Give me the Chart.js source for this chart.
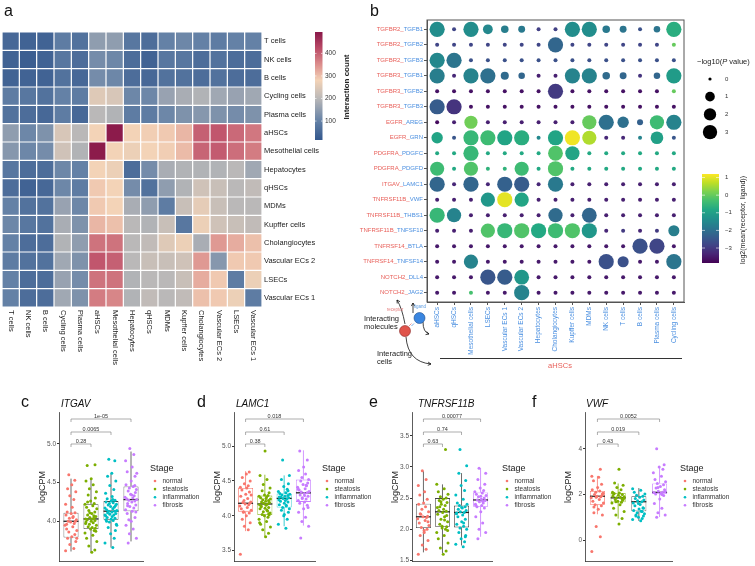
<!DOCTYPE html>
<html>
<head>
<meta charset="utf-8">
<script src="https://cdn.jsdelivr.net/npm/chart.js@4.4.1/dist/chart.umd.min.js"></script>
<style>
  body { margin: 0; background: #fff; width: 755px; height: 566px; position: relative; overflow: hidden; }
  canvas { position: absolute; }
</style>
</head>
<body>
<canvas id="heat" style="left:0;top:0" width="360" height="380"></canvas>
<canvas id="dots" style="left:350px;top:0" width="405" height="380"></canvas>
<canvas id="boxC" style="left:15px;top:390px" width="200" height="176"></canvas>
<canvas id="boxD" style="left:190px;top:390px" width="195" height="176"></canvas>
<canvas id="boxE" style="left:365px;top:390px" width="195" height="176"></canvas>
<canvas id="boxF" style="left:525px;top:390px" width="230" height="176"></canvas>
<script>
const FONT = "'Liberation Sans', Arial, sans-serif";
Chart.defaults.font.family = FONT;
Chart.defaults.animation = false;

// ---- panel a: interaction counts between cell types
const cellTypes = ["T cells", "NK cells", "B cells", "Cycling cells", "Plasma cells", "aHSCs",
  "Mesothelial cells", "Hepatocytes", "qHSCs", "MDMs", "Kupffer cells", "Cholangiocytes",
  "Vascular ECs 2", "LSECs", "Vascular ECs 1"];
const interactionCounts = [
  [50, 40, 40, 90, 70, 150, 150, 80, 60, 100, 110, 100, 90, 100, 100],
  [40, 30, 40, 80, 60, 120, 110, 60, 40, 80, 80, 60, 70, 60, 60],
  [40, 40, 40, 70, 50, 120, 110, 60, 50, 70, 70, 60, 70, 60, 60],
  [90, 80, 70, 100, 90, 250, 240, 110, 110, 160, 180, 190, 170, 160, 170],
  [70, 60, 50, 90, 50, 200, 190, 90, 90, 110, 130, 140, 130, 120, 130],
  [150, 110, 130, 240, 200, 280, 490, 280, 285, 290, 310, 400, 410, 390, 375],
  [140, 110, 120, 230, 190, 490, 280, 270, 280, 285, 305, 395, 405, 385, 370],
  [80, 60, 60, 110, 100, 280, 270, 60, 120, 180, 190, 190, 190, 200, 170],
  [60, 40, 50, 110, 90, 290, 280, 120, 70, 150, 190, 230, 220, 200, 210],
  [100, 70, 70, 160, 110, 290, 280, 180, 150, 90, 220, 260, 220, 200, 200],
  [110, 80, 70, 180, 130, 310, 300, 200, 190, 220, 80, 270, 230, 220, 210],
  [100, 60, 60, 190, 150, 380, 380, 200, 210, 250, 270, 180, 340, 320, 300],
  [90, 70, 70, 170, 130, 410, 400, 200, 220, 220, 230, 340, 140, 290, 290],
  [100, 60, 60, 160, 120, 380, 380, 190, 200, 200, 220, 320, 290, 90, 270],
  [100, 60, 60, 170, 130, 370, 360, 190, 210, 200, 210, 300, 290, 270, 90]
];
const countTicks = [100, 200, 300, 400];

// ---- panel b: receptor/ligand pairs on aHSCs
const pairs = ["TGFBR2_TGFB1", "TGFBR2_TGFB2", "TGFBR2_TGFB3", "TGFBR3_TGFB1", "TGFBR3_TGFB2",
  "TGFBR3_TGFB3", "EGFR_AREG", "EGFR_GRN", "PDGFRA_PDGFC", "PDGFRA_PDGFD", "ITGAV_LAMC1",
  "TNFRSF11B_VWF", "TNFRSF11B_THBS1", "TNFRSF11B_TNFSF10", "TNFRSF14_BTLA", "TNFRSF14_TNFSF14",
  "NOTCH2_DLL4", "NOTCH2_JAG2"];
const targetCells = ["aHSCs", "qHSCs", "Mesothelial cells", "LSECs", "Vascular ECs 1", "Vascular ECs 2",
  "Hepatocytes", "Cholangiocytes", "Kupffer cells", "MDMs", "NK cells", "T cells", "B cells",
  "Plasma cells", "Cycling cells"];
const negLogP = [
  [3, 0, 3, 0.8, 0.3, 0.2, 0, 0, 3, 3, 0.3, 0.2, 0, 0.15, 3],
  [0, 0, 0, 0, 0, 0, 0, 3, 0, 0, 0, 0, 0, 0, 0],
  [3, 3, 0, 0, 0, 0, 0, 0, 0, 0, 0, 0, 0, 0, 0],
  [3, 0, 3, 3, 0.4, 0.15, 0, 0, 3, 3, 0.3, 0.2, 0, 0.15, 3],
  [0, 0, 0, 0, 0, 0, 0, 3, 0, 0, 0, 0, 0, 0, 0],
  [3, 3, 0, 0, 0, 0, 0, 0, 0, 0, 0, 0, 0, 0, 0],
  [0, 0, 2, 0, 0, 0, 0, 0, 0, 2.5, 3, 1.3, 0.1, 2.5, 3],
  [1.3, 0, 3, 3, 3, 3, 0, 3, 3, 2.5, 0, 0, 0, 1.8, 0],
  [0, 0, 3, 0, 0, 0, 0, 2.8, 2.5, 0, 0, 0, 0, 0, 0],
  [2.5, 0, 2.5, 0, 0, 2.5, 0, 3, 0, 0, 0, 0, 0, 0, 0],
  [3, 0, 3, 0, 3, 3, 0, 3, 0, 0, 0, 0, 0, 0, 0],
  [0, 0, 0, 2.5, 3, 2.5, 0, 0, 0, 0, 0, 0, 0, 0, 0],
  [3, 2.5, 0, 0, 0, 0, 0, 2.5, 0, 2.8, 0, 0, 0, 0, 0],
  [0, 0, 0, 2.5, 3, 3, 3, 3, 3, 3, 0, 0, 0, 0, 1.2],
  [0, 0, 0, 0, 0, 0, 0, 0, 0, 0, 0, 0, 3, 3, 0],
  [0, 0, 2.5, 0, 0, 0, 0, 0, 0, 0, 3, 1.2, 0, 0, 3],
  [0, 0, 0, 3, 3, 2.8, 0, 0, 0, 0, 0, 0, 0, 0, 0],
  [0, 0, 0, 0, 0, 3, 0, 0, 0, 0, 0, 0, 0, 0, 0]
];
const log2Mean = [
  [-1.4, -2.8, -1.4, -1.5, -1.7, -1.8, -2.9, -2.9, -1.4, -1.4, -1.8, -1.9, -2.6, -1.9, -0.7],
  [-2.8, -2.8, -2.8, -2.8, -2.8, -2.8, -2.8, -2.2, -2.8, -2.8, -2.8, -2.8, -2.8, -2.8, 0.0],
  [-1.5, -1.9, -2.6, -2.6, -2.6, -2.6, -2.6, -2.6, -2.6, -2.6, -2.6, -2.6, -2.6, -2.6, -2.6],
  [-1.7, -3.3, -1.6, -2.0, -2.1, -2.2, -3.4, -3.4, -1.6, -1.6, -2.1, -2.2, -3.1, -2.2, -1.1],
  [-3.6, -3.6, -3.6, -3.6, -3.6, -3.6, -3.6, -3.0, -3.6, -3.6, -3.6, -3.6, -3.6, -3.6, 0.0],
  [-2.4, -3.1, -3.6, -3.6, -3.6, -3.6, -3.6, -3.6, -3.6, -3.6, -3.6, -3.6, -3.6, -3.6, -3.6],
  [-3.7, -3.4, 0.1, -3.4, -3.4, -3.4, -3.4, -3.4, -3.4, 0.0, -2.0, -2.0, -2.3, -0.4, -1.6],
  [-0.9, -2.5, -0.5, -0.4, -0.9, -0.7, -1.5, -0.9, 1.1, 0.6, -3.3, -3.3, -1.6, -1.0, -2.5],
  [-0.8, -0.8, -0.5, -0.8, -0.8, -0.8, -0.8, -0.2, -0.9, -0.8, -0.8, -0.8, -0.8, -0.8, -0.8],
  [-0.4, -0.8, -0.2, -0.6, -0.6, -0.4, -0.8, -0.2, -0.8, -0.8, -0.8, -0.8, -0.8, -0.8, -0.8],
  [-2.2, -3.3, -2.2, -3.3, -2.3, -2.4, -3.3, -1.8, -3.4, -3.4, -3.4, -3.4, -3.4, -3.4, -3.4],
  [-3.4, -3.4, -3.4, -1.2, 1.0, -0.9, -3.4, -3.4, -3.4, -3.4, -3.4, -3.4, -3.4, -3.4, -3.4],
  [-0.5, -1.6, -3.4, -3.4, -3.4, -3.4, -3.4, -2.1, -3.4, -2.2, -3.4, -3.4, -3.4, -3.4, -3.4],
  [-3.4, -3.4, -3.4, -0.2, -0.5, -0.2, -0.8, -0.4, -0.2, -1.2, -3.3, -3.0, -3.3, -3.0, -1.7],
  [-3.5, -3.5, -3.5, -3.5, -3.5, -3.5, -3.5, -3.5, -3.5, -3.5, -3.5, -3.5, -2.6, -2.8, -3.5],
  [-3.5, -3.5, -1.6, -3.5, -3.5, -3.5, -3.5, -3.5, -3.5, -3.5, -2.6, -2.6, -3.5, -3.5, -1.9],
  [-3.5, -3.5, -3.5, -2.5, -2.4, -1.2, -3.5, -3.5, -3.5, -3.5, -3.5, -3.5, -3.5, -3.5, -3.5],
  [-3.5, -3.5, -0.3, -3.5, -3.5, -1.6, -3.5, -3.5, -3.5, -3.5, -3.5, -3.5, -3.5, -3.5, -3.5]
];
const pLegendLevels = [0, 1, 2, 3];
const meanTicks = [1, 0, -1, -2, -3];

// ---- panels c-f: logCPM by stage
const stages = ["normal", "steatosis", "inflammation", "fibrosis"];

const itgavValues = [
  [3.62, 3.65, 3.70, 3.74, 3.78, 3.80, 3.83, 3.86, 3.88, 3.90, 3.93, 3.95, 3.97, 3.99, 4.00, 4.00, 4.02, 4.04, 4.06, 4.08, 4.10, 4.11, 4.12, 4.18, 4.22, 4.28, 4.33, 4.38, 4.42, 4.47, 4.53, 4.60, 3.78, 3.96, 4.05],
  [3.60, 3.63, 3.68, 3.74, 3.78, 3.82, 3.85, 3.88, 3.90, 3.91, 3.93, 3.95, 3.96, 3.98, 3.99, 4.00, 4.01, 4.02, 4.03, 4.03, 4.04, 4.05, 4.06, 4.08, 4.10, 4.12, 4.14, 4.16, 4.18, 4.20, 4.22, 4.23, 4.26, 4.30, 4.34, 4.38, 4.42, 4.47, 4.52, 4.55, 4.73, 4.72, 3.92, 3.97, 4.07, 4.11, 3.87, 4.25],
  [3.66, 3.72, 3.78, 3.84, 3.88, 3.92, 3.96, 3.99, 4.01, 4.02, 4.03, 4.04, 4.05, 4.06, 4.07, 4.08, 4.09, 4.10, 4.11, 4.12, 4.13, 4.13, 4.14, 4.15, 4.16, 4.17, 4.18, 4.19, 4.20, 4.21, 4.22, 4.23, 4.24, 4.25, 4.26, 4.27, 4.29, 4.32, 4.36, 4.41, 4.46, 4.52, 4.58, 4.62, 4.78, 4.80, 3.95, 4.00, 4.28, 4.08],
  [3.72, 3.78, 3.84, 3.90, 3.95, 4.00, 4.05, 4.10, 4.13, 4.15, 4.17, 4.19, 4.21, 4.23, 4.25, 4.26, 4.27, 4.28, 4.29, 4.30, 4.31, 4.33, 4.35, 4.37, 4.39, 4.41, 4.43, 4.45, 4.47, 4.52, 4.58, 4.64, 4.70, 4.78, 4.86, 4.94, 4.12, 4.20, 4.34, 4.46, 4.02, 4.62]
];
const itgavQ1 = [3.79, 3.90, 4.02, 4.13];
const itgavMedian = [4.00, 4.03, 4.13, 4.28];
const itgavQ3 = [4.11, 4.22, 4.26, 4.45];
const itgavWhiskerLo = [3.61, 3.60, 3.66, 3.74];
const itgavWhiskerHi = [4.55, 4.55, 4.61, 4.90];
const itgavPValues = ["0.28", "0.0065", "1e-05"];
const itgavTicks = [4.0, 4.5, 5.0];

const lamc1Values = [
  [3.45, 3.80, 3.85, 3.90, 3.95, 4.00, 4.04, 4.06, 4.08, 4.10, 4.12, 4.14, 4.16, 4.17, 4.18, 4.19, 4.20, 4.22, 4.25, 4.28, 4.31, 4.34, 4.37, 4.40, 4.41, 4.43, 4.46, 4.50, 4.55, 4.60, 4.63, 4.05, 4.30],
  [3.70, 3.75, 3.80, 3.84, 3.88, 3.92, 3.95, 3.98, 4.00, 4.01, 4.02, 4.04, 4.06, 4.08, 4.10, 4.11, 4.12, 4.14, 4.15, 4.16, 4.17, 4.18, 4.19, 4.20, 4.21, 4.22, 4.23, 4.24, 4.26, 4.27, 4.28, 4.29, 4.30, 4.33, 4.36, 4.40, 4.45, 4.52, 4.58, 4.93, 4.03, 4.13, 4.25, 3.90, 4.07],
  [3.82, 3.88, 3.95, 4.00, 4.05, 4.08, 4.10, 4.12, 4.14, 4.16, 4.18, 4.20, 4.21, 4.22, 4.23, 4.24, 4.25, 4.26, 4.27, 4.28, 4.29, 4.30, 4.31, 4.32, 4.33, 4.35, 4.38, 4.42, 4.46, 4.52, 4.58, 4.80, 4.15, 4.27, 4.02, 4.36],
  [3.68, 3.85, 3.92, 3.98, 4.05, 4.10, 4.15, 4.18, 4.20, 4.22, 4.24, 4.26, 4.28, 4.30, 4.32, 4.33, 4.34, 4.35, 4.37, 4.39, 4.41, 4.43, 4.45, 4.47, 4.50, 4.52, 4.55, 4.60, 4.65, 4.70, 4.80, 4.93, 4.29, 4.38, 4.44, 4.25, 4.12]
];
const lamc1Q1 = [4.06, 4.01, 4.12, 4.20];
const lamc1Median = [4.18, 4.17, 4.25, 4.33];
const lamc1Q3 = [4.40, 4.29, 4.32, 4.52];
const lamc1WhiskerLo = [3.78, 3.69, 3.85, 3.86];
const lamc1WhiskerHi = [4.64, 4.59, 4.58, 4.94];
const lamc1PValues = ["0.38", "0.61", "0.018"];
const lamc1Ticks = [3.5, 4.0, 4.5, 5.0];

const tnfrsf11bValues = [
  [1.60, 1.68, 1.75, 1.82, 1.90, 1.95, 2.00, 2.03, 2.06, 2.10, 2.14, 2.17, 2.19, 2.20, 2.21, 2.24, 2.28, 2.32, 2.36, 2.40, 2.42, 2.48, 2.55, 2.60, 2.70, 2.80, 2.94, 2.12, 2.25, 1.98],
  [1.60, 1.65, 1.70, 1.78, 1.85, 1.90, 1.95, 2.00, 2.02, 2.04, 2.08, 2.12, 2.16, 2.20, 2.24, 2.27, 2.29, 2.30, 2.32, 2.35, 2.38, 2.40, 2.43, 2.46, 2.48, 2.50, 2.52, 2.56, 2.60, 2.65, 2.72, 3.28, 2.05, 2.22, 2.36, 1.98, 2.44, 2.15],
  [1.72, 1.76, 1.80, 1.85, 1.90, 1.95, 2.00, 2.02, 2.05, 2.08, 2.12, 2.16, 2.20, 2.23, 2.25, 2.27, 2.28, 2.30, 2.32, 2.34, 2.36, 2.38, 2.40, 2.42, 2.48, 2.55, 2.62, 2.70, 2.78, 2.90, 3.02, 3.28, 2.10, 2.26, 2.35, 1.88],
  [1.85, 1.95, 2.00, 2.10, 2.20, 2.28, 2.34, 2.36, 2.38, 2.40, 2.42, 2.44, 2.46, 2.47, 2.48, 2.50, 2.52, 2.54, 2.56, 2.58, 2.60, 2.62, 2.66, 2.72, 2.80, 2.90, 2.98, 2.45, 2.39, 2.53]
];
const tnfrsf11bQ1 = [2.02, 2.04, 2.03, 2.36];
const tnfrsf11bMedian = [2.20, 2.28, 2.27, 2.47];
const tnfrsf11bQ3 = [2.41, 2.50, 2.38, 2.59];
const tnfrsf11bWhiskerLo = [1.63, 1.62, 1.74, 1.88];
const tnfrsf11bWhiskerHi = [2.93, 2.72, 2.90, 2.98];
const tnfrsf11bPValues = ["0.63", "0.74", "0.00077"];
const tnfrsf11bTicks = [1.5, 2.0, 2.5, 3.0, 3.5];

const vwfValues = [
  [-0.50, 0.15, 0.60, 1.10, 1.20, 1.35, 1.50, 1.55, 1.62, 1.70, 1.78, 1.85, 1.90, 1.92, 1.95, 2.00, 2.05, 2.10, 2.15, 2.20, 2.30, 2.45, 2.60, 2.75, 2.80, 3.10, 1.88, 2.02, 1.45],
  [0.70, 0.95, 1.10, 1.25, 1.40, 1.55, 1.62, 1.66, 1.70, 1.74, 1.78, 1.82, 1.85, 1.88, 1.92, 1.96, 2.00, 2.04, 2.06, 2.10, 2.20, 2.30, 2.40, 2.50, 3.10, 1.80, 1.68, 1.90, 2.02],
  [0.85, 0.90, 0.95, 1.00, 1.05, 1.10, 1.15, 1.20, 1.26, 1.30, 1.36, 1.42, 1.50, 1.56, 1.62, 1.68, 1.72, 1.76, 1.82, 1.88, 1.92, 1.96, 2.02, 2.10, 2.18, 2.25, 1.25, 1.60, 1.40, 1.05],
  [1.00, 1.10, 1.20, 1.40, 1.60, 1.80, 1.95, 2.02, 2.05, 2.08, 2.10, 2.14, 2.20, 2.28, 2.35, 2.42, 2.48, 2.56, 2.65, 2.80, 2.95, 3.10, 3.20, 3.30, 4.00, 2.12, 2.30, 2.00]
];
const vwfQ1 = [1.55, 1.66, 1.26, 2.02];
const vwfMedian = [1.92, 1.85, 1.68, 2.09];
const vwfQ3 = [2.15, 2.06, 1.92, 2.48];
const vwfWhiskerLo = [1.13, 0.94, 0.84, 1.01];
const vwfWhiskerHi = [2.81, 2.48, 2.28, 3.18];
const vwfPValues = ["0.43", "0.019", "0.0052"];
const vwfTicks = [0, 2, 4];

// ---- colours
const stageColors = ["#F8766D", "#7CAE00", "#00BFC4", "#C77CFF"];
const countStops = [[20, "#35598e"], [100, "#6481a6"], [200, "#bab8b8"], [280, "#f3d3b7"], [350, "#dc8f8d"], [420, "#bc4d68"], [490, "#8c1b4b"]];
const viridisStops = [[0, "#440154"], [0.1, "#482475"], [0.2, "#414487"], [0.3, "#355f8d"], [0.4, "#2a788e"], [0.5, "#21918c"], [0.6, "#22a884"], [0.7, "#44bf70"], [0.8, "#7ad151"], [0.9, "#bddf26"], [1, "#fde725"]];

function hexRgb(h) { return [1, 3, 5].map(i => parseInt(h.substr(i, 2), 16)); }
function fromStops(stops, v) {
  if (v <= stops[0][0]) return stops[0][1];
  for (let i = 1; i < stops.length; i++) {
    if (v <= stops[i][0]) {
      const t = (v - stops[i - 1][0]) / (stops[i][0] - stops[i - 1][0]);
      const a = hexRgb(stops[i - 1][1]), b = hexRgb(stops[i][1]);
      return "rgb(" + a.map((c, k) => Math.round(c + (b[k] - c) * t)).join(",") + ")";
    }
  }
  return stops[stops.length - 1][1];
}
const countColor = v => fromStops(countStops, v);
const viridis = v => fromStops(viridisStops, (v + 3.85) / 5.05);
const sizeForP = p => 2 + 5.6 * Math.sqrt(p / 3);

// ================= panel a
const heatExtras = {
  id: "heatExtras",
  afterDraw(chart) {
    const {ctx, chartArea: a, scales: {x}} = chart;
    ctx.save();
    ctx.fillStyle = "#222";
    ctx.font = "7.5px " + FONT;
    ctx.textAlign = "left";
    ctx.textBaseline = "middle";
    cellTypes.forEach((t, i) => {
      ctx.save();
      ctx.translate(x.getPixelForValue(i), a.bottom + 3);
      ctx.rotate(Math.PI / 2);
      ctx.fillText(t, 0, 0);
      ctx.restore();
    });
    // colour bar
    const cb = {left: 315, width: 7.5, top: 32, bottom: 140, lo: 16, hi: 495};
    for (let py = cb.top; py < cb.bottom; py++) {
      const v = cb.hi - (py - cb.top + 0.5) / (cb.bottom - cb.top) * (cb.hi - cb.lo);
      ctx.fillStyle = countColor(v);
      ctx.fillRect(cb.left, py, cb.width, 1);
    }
    ctx.font = "6.5px " + FONT;
    ctx.fillStyle = "#333";
    ctx.strokeStyle = "#fff";
    ctx.lineWidth = 0.6;
    countTicks.forEach(v => {
      const py = cb.bottom - (v - cb.lo) / (cb.hi - cb.lo) * (cb.bottom - cb.top);
      ctx.beginPath();
      ctx.moveTo(cb.left, py); ctx.lineTo(cb.left + 1.5, py);
      ctx.moveTo(cb.left + cb.width - 1.5, py); ctx.lineTo(cb.left + cb.width, py);
      ctx.stroke();
      ctx.fillText(String(v), 325, py);
    });
    ctx.save();
    ctx.translate(346.5, 87);
    ctx.rotate(-Math.PI / 2);
    ctx.textAlign = "center";
    ctx.font = "bold 8px " + FONT;
    ctx.fillStyle = "#222";
    ctx.fillText("Interaction count", 0, 0);
    ctx.restore();
    ctx.font = "16px " + FONT;
    ctx.fillStyle = "#111";
    ctx.textBaseline = "alphabetic";
    ctx.fillText("a", 4, 16);
    ctx.restore();
  }
};

new Chart(document.getElementById("heat"), {
  type: "bar",
  data: {
    labels: cellTypes,
    datasets: cellTypes.map((row, r) => ({
      label: row,
      data: cellTypes.map(() => 1),
      backgroundColor: interactionCounts[r].map(countColor),
      borderColor: "#fff",
      borderWidth: 0.6,
      borderSkipped: false,
      inflateAmount: 0,
      barPercentage: 1,
      categoryPercentage: 1
    }))
  },
  options: {
    responsive: false,
    devicePixelRatio: 1,
    events: [],
    layout: {padding: {left: 2, top: 32, right: 0, bottom: 0}},
    plugins: {legend: {display: false}, tooltip: {enabled: false}},
    scales: {
      x: {
        stacked: true,
        grid: {display: false, drawTicks: false},
        border: {display: false},
        ticks: {display: false},
        afterFit: s => { s.height = 73; }
      },
      y: {
        stacked: true, position: "right", reverse: true, min: 0, max: 15,
        grid: {display: false, drawTicks: false},
        border: {display: false},
        afterBuildTicks: s => { s.ticks = cellTypes.map((_, i) => ({value: i + 0.5})); },
        ticks: {callback: v => cellTypes[Math.floor(v)], color: "#222", font: {size: 7.5}, padding: 2, autoSkip: false},
        afterFit: s => { s.width = 98; }
      }
    }
  },
  plugins: [heatExtras]
});

// ================= panel b
const bubblePoints = [];
pairs.forEach((pr, r) => targetCells.forEach((tc, c) => {
  bubblePoints.push({x: c, y: r, p: negLogP[r][c], m: log2Mean[r][c]});
}));

function arrow(ctx, x0, y0, cx, cy, x1, y1) {
  ctx.beginPath();
  ctx.moveTo(x0, y0);
  ctx.quadraticCurveTo(cx, cy, x1, y1);
  ctx.stroke();
  const ang = Math.atan2(y1 - cy, x1 - cx);
  ctx.beginPath();
  ctx.moveTo(x1 - 3.5 * Math.cos(ang - 0.5), y1 - 3.5 * Math.sin(ang - 0.5));
  ctx.lineTo(x1, y1);
  ctx.lineTo(x1 - 3.5 * Math.cos(ang + 0.5), y1 - 3.5 * Math.sin(ang + 0.5));
  ctx.stroke();
}

const dotExtras = {
  id: "dotExtras",
  afterDraw(chart) {
    const {ctx, chartArea: a, scales: {y}} = chart;
    const ox = 350;
    ctx.save();
    ctx.strokeStyle = "#555";
    ctx.lineWidth = 1;
    ctx.strokeRect(a.left, a.top, a.right - a.left, a.bottom - a.top);
    // row labels: receptor red, ligand blue
    ctx.font = "6px " + FONT;
    ctx.textBaseline = "middle";
    ctx.textAlign = "right";
    pairs.forEach((pr, i) => {
      const [rec, lig] = pr.split("_");
      const py = y.getPixelForValue(i);
      const xEnd = a.left - 4;
      ctx.fillStyle = "#4a8fe0";
      ctx.fillText(lig, xEnd, py);
      const w = ctx.measureText(lig).width;
      ctx.fillStyle = "#e8605a";
      ctx.fillText(rec + "_", xEnd - w, py);
    });
    // sender bracket
    ctx.strokeStyle = "#333";
    ctx.beginPath();
    ctx.moveTo(440 - ox, 358.5); ctx.lineTo(682 - ox, 358.5);
    ctx.stroke();
    ctx.textAlign = "center";
    ctx.fillStyle = "#e8605a";
    ctx.font = "7.5px " + FONT;
    ctx.fillText("aHSCs", 560 - ox, 366);
    // schematic
    ctx.strokeStyle = "#111";
    ctx.lineWidth = 0.8;
    arrow(ctx, 405 - ox, 324, 402 - ox, 308, 397 - ox, 300);
    arrow(ctx, 413 - ox, 313, 413 - ox, 308, 413 - ox, 303);
    arrow(ctx, 423 - ox, 322, 423 - ox, 332, 429 - ox, 334);
    arrow(ctx, 406 - ox, 337, 408 - ox, 362, 431 - ox, 364);
    ctx.lineWidth = 0.6;
    ctx.beginPath();
    ctx.arc(405 - ox, 331, 5.5, 0, Math.PI * 2);
    ctx.fillStyle = "#e0544b"; ctx.fill();
    ctx.strokeStyle = "#8a2a2a"; ctx.stroke();
    ctx.beginPath();
    ctx.arc(419.5 - ox, 318, 5.5, 0, Math.PI * 2);
    ctx.fillStyle = "#3a86e0"; ctx.fill();
    ctx.strokeStyle = "#1d4c8a"; ctx.stroke();
    ctx.lineWidth = 0.8;
    ctx.strokeStyle = "#e68080";
    ctx.beginPath(); ctx.moveTo(409 - ox, 326); ctx.lineTo(411.5 - ox, 323.5); ctx.stroke();
    ctx.strokeStyle = "#5b9be0";
    ctx.beginPath(); ctx.moveTo(411.5 - ox, 326); ctx.lineTo(414 - ox, 323.5); ctx.stroke();
    ctx.font = "4.5px " + FONT;
    ctx.fillStyle = "#e68080";
    ctx.fillText("receptor", 395 - ox, 310);
    ctx.fillStyle = "#5b9be0";
    ctx.fillText("ligand", 420 - ox, 306.5);
    ctx.font = "7.5px " + FONT;
    ctx.fillStyle = "#222";
    ctx.textAlign = "left";
    ctx.fillText("Interacting", 364 - ox, 319);
    ctx.fillText("molecules", 364 - ox, 327);
    ctx.fillText("Interacting", 377 - ox, 354);
    ctx.fillText("cells", 377 - ox, 361.5);
    // size legend
    let tx = 697 - ox;
    ["\u2212log10(", "P", " value)"].forEach((part, k) => {
      ctx.font = (k === 1 ? "italic " : "") + "7.5px " + FONT;
      ctx.fillText(part, tx, 62);
      tx += ctx.measureText(part).width;
    });
    ctx.font = "6px " + FONT;
    pLegendLevels.forEach((lv, i) => {
      const py = 79 + i * 17.7;
      ctx.beginPath();
      ctx.arc(710 - ox, py, sizeForP(lv) - 0.4, 0, Math.PI * 2);
      ctx.fillStyle = "#000"; ctx.fill();
      ctx.fillStyle = "#333";
      ctx.fillText(String(lv), 725 - ox, py);
    });
    // colour bar
    const cb = {left: 702 - ox, width: 17, top: 174, bottom: 263, lo: -3.85, hi: 1.2};
    for (let py = cb.top; py < cb.bottom; py++) {
      const v = cb.hi - (py - cb.top + 0.5) / (cb.bottom - cb.top) * (cb.hi - cb.lo);
      ctx.fillStyle = viridis(v);
      ctx.fillRect(cb.left, py, cb.width, 1);
    }
    ctx.strokeStyle = "#fff";
    ctx.lineWidth = 0.6;
    meanTicks.forEach(v => {
      const py = cb.bottom - (v - cb.lo) / (cb.hi - cb.lo) * (cb.bottom - cb.top);
      ctx.beginPath();
      ctx.moveTo(cb.left, py); ctx.lineTo(cb.left + 3, py);
      ctx.moveTo(cb.left + cb.width - 3, py); ctx.lineTo(cb.left + cb.width, py);
      ctx.stroke();
      ctx.fillStyle = "#333";
      ctx.fillText(v < 0 ? "\u2212" + Math.abs(v) : String(v), 725 - ox, py);
    });
    ctx.save();
    ctx.translate(743 - ox, 220);
    ctx.rotate(-Math.PI / 2);
    ctx.textAlign = "center";
    ctx.font = "7px " + FONT;
    ctx.fillStyle = "#222";
    ctx.fillText("log2(mean(receptor, ligand))", 0, 0);
    ctx.restore();
    ctx.font = "16px " + FONT;
    ctx.fillStyle = "#111";
    ctx.textAlign = "left";
    ctx.textBaseline = "alphabetic";
    ctx.fillText("b", 370 - ox, 16);
    ctx.restore();
  }
};

new Chart(document.getElementById("dots"), {
  type: "bubble",
  data: {
    datasets: [{
      data: bubblePoints,
      backgroundColor: ctx => (ctx.raw ? viridis(ctx.raw.m) : "#000"),
      radius: ctx => (ctx.raw ? sizeForP(ctx.raw.p) : 2),
      borderWidth: 0
    }]
  },
  options: {
    responsive: false,
    devicePixelRatio: 1,
    events: [],
    clip: false,
    layout: {padding: {left: 0, top: 20, right: 71, bottom: 0}},
    plugins: {legend: {display: false}, tooltip: {enabled: false}},
    scales: {
      x: {
        type: "linear", min: -0.6, max: 14.6, offset: false,
        afterBuildTicks: s => { s.ticks = targetCells.map((_, i) => ({value: i})); },
        ticks: {callback: v => targetCells[v], color: "#4a8fe0", font: {size: 6.5}, minRotation: 90, maxRotation: 90, autoSkip: false, padding: 2},
        grid: {drawOnChartArea: false, tickLength: 3, color: "#555"},
        border: {color: "#555"},
        afterFit: s => { s.height = 78; }
      },
      y: {
        type: "linear", min: -0.6, max: 17.6, reverse: true, offset: false,
        afterBuildTicks: s => { s.ticks = pairs.map((_, i) => ({value: i})); },
        ticks: {display: false},
        grid: {drawOnChartArea: false, tickLength: 3, color: "#555"},
        border: {color: "#555"},
        afterFit: s => { s.width = 77; }
      }
    }
  },
  plugins: [dotExtras]
});

// ================= panels c-f
const jitter = [-0.27, 0.14, -0.06, 0.24, -0.17, 0.04, 0.19, -0.11, 0.29, -0.22, 0.09, -0.3, 0.16, -0.02, 0.22, -0.14, 0.27, -0.08, 0.11, -0.25, 0.01, 0.2, -0.19, 0.06];

function boxPanel(p) {
  const canvas = document.getElementById(p.id);
  const left = parseFloat(canvas.style.left);
  const pts = [];
  p.values.forEach((vals, g) => vals.forEach((v, i) => {
    pts.push({x: g + jitter[(i + g * 5) % jitter.length], y: v});
  }));
  const extras = {
    id: "boxExtras",
    beforeDatasetsDraw(chart) {
      const {ctx, scales: {x, y}} = chart;
      ctx.save();
      ctx.lineWidth = 0.8;
      stages.forEach((s, g) => {
        const px = x.getPixelForValue(g);
        ctx.strokeStyle = p.boxColors[g];
        ctx.beginPath();
        ctx.moveTo(px, y.getPixelForValue(p.whiskerHi[g])); ctx.lineTo(px, y.getPixelForValue(p.q3[g]));
        ctx.moveTo(px, y.getPixelForValue(p.q1[g])); ctx.lineTo(px, y.getPixelForValue(p.whiskerLo[g]));
        ctx.stroke();
      });
      ctx.restore();
    },
    afterDatasetDraw(chart, args) {
      if (args.index !== 1) return;
      const {ctx, scales: {x, y}} = chart;
      ctx.save();
      ctx.lineWidth = 1.3;
      ctx.strokeStyle = "#222";
      stages.forEach((s, g) => {
        const px = x.getPixelForValue(g), py = y.getPixelForValue(p.median[g]);
        ctx.beginPath(); ctx.moveTo(px - 7.5, py); ctx.lineTo(px + 7.5, py); ctx.stroke();
      });
      ctx.restore();
    },
    afterDraw(chart) {
      const {ctx, chartArea: a, scales: {x}} = chart;
      ctx.save();
      // comparison brackets against normal
      const offs = [32, 20, 7];
      ctx.strokeStyle = "#777";
      ctx.lineWidth = 0.6;
      ctx.fillStyle = "#333";
      ctx.font = "5.5px " + FONT;
      ctx.textAlign = "center";
      ctx.textBaseline = "alphabetic";
      p.pvalues.forEach((pv, k) => {
        const x0 = x.getPixelForValue(0), x1 = x.getPixelForValue(k + 1), yb = a.top + offs[k];
        ctx.beginPath();
        ctx.moveTo(x0, yb + 3); ctx.lineTo(x0, yb); ctx.lineTo(x1, yb); ctx.lineTo(x1, yb + 3);
        ctx.stroke();
        ctx.fillText(pv, (x0 + x1) / 2, yb - 1.5);
      });
      // axis title
      ctx.save();
      ctx.translate(a.left - 16, 487 - 390);
      ctx.rotate(-Math.PI / 2);
      ctx.font = "9px " + FONT;
      ctx.fillStyle = "#222";
      ctx.textBaseline = "middle";
      ctx.fillText("logCPM", 0, 0);
      ctx.restore();
      // gene title and panel letter
      ctx.textAlign = "left";
      ctx.font = "italic 10px " + FONT;
      ctx.fillStyle = "#111";
      ctx.fillText(p.gene, p.titleX - left, 407 - 390);
      ctx.font = "16px " + FONT;
      ctx.fillText(p.letter, p.letterX - left, 407 - 390);
      // legend
      const lx = p.legendX - left;
      ctx.textBaseline = "middle";
      ctx.font = "9px " + FONT;
      ctx.fillStyle = "#222";
      ctx.fillText("Stage", lx, 469 - 390);
      ctx.font = "6.5px " + FONT;
      stages.forEach((s, g) => {
        const py = 481 - 390 + g * 8.1;
        ctx.beginPath();
        ctx.arc(lx + 5, py, 1.3, 0, Math.PI * 2);
        ctx.fillStyle = stageColors[g];
        ctx.fill();
        ctx.fillStyle = "#333";
        ctx.fillText(s, lx + 12.5, py);
      });
      ctx.restore();
    }
  };
  new Chart(canvas, {
    type: "bar",
    data: {
      datasets: [
        {
          type: "scatter",
          data: pts,
          order: 0,
          pointBackgroundColor: ctx => (ctx.raw ? stageColors[Math.round(ctx.raw.x)] : "#000"),
          pointRadius: 1.5,
          pointBorderWidth: 0
        },
        {
          type: "bar",
          data: stages.map((s, g) => ({x: g, y: [p.q1[g], p.q3[g]]})),
          order: 1,
          backgroundColor: "#fff",
          borderColor: p.boxColors,
          borderWidth: 0.8,
          borderSkipped: false,
          inflateAmount: 0,
          barThickness: 15,
          grouped: false
        }
      ]
    },
    options: {
      responsive: false,
      devicePixelRatio: 1,
      events: [],
      layout: {padding: {left: 0, top: 22, right: canvas.width - (p.right - left), bottom: 0}},
      plugins: {legend: {display: false}, tooltip: {enabled: false}},
      scales: {
        x: {
          type: "linear", min: -0.6, max: 3.6, offset: false,
          ticks: {display: false},
          grid: {display: false, drawTicks: false},
          border: {color: "#333", width: 0.8},
          afterFit: s => { s.height = 3; }
        },
        y: {
          type: "linear", min: p.ymin, max: p.ymax, offset: false,
          afterBuildTicks: s => { s.ticks = p.ticks.map(v => ({value: v})); },
          ticks: {callback: v => (p.decimals ? v.toFixed(1) : String(v)), color: "#555", font: {size: 6.5}, padding: 1},
          grid: {drawOnChartArea: false, tickLength: 2, color: "#333"},
          border: {color: "#333", width: 0.8},
          afterFit: s => { s.width = p.axisX - left; }
        }
      }
    },
    plugins: [extras]
  });
}

const grey = "#444";
boxPanel({id: "boxC", letter: "c", gene: "ITGAV", letterX: 21, titleX: 61, legendX: 150, axisX: 59, right: 143,
  ymin: 3.486, ymax: 5.41, ticks: itgavTicks, decimals: true,
  values: itgavValues, q1: itgavQ1, median: itgavMedian, q3: itgavQ3, whiskerLo: itgavWhiskerLo, whiskerHi: itgavWhiskerHi,
  pvalues: itgavPValues, boxColors: [grey, grey, grey, grey]});
boxPanel({id: "boxD", letter: "d", gene: "LAMC1", letterX: 197, titleX: 236, legendX: 322, axisX: 234, right: 315,
  ymin: 3.35, ymax: 5.49, ticks: lamc1Ticks, decimals: true,
  values: lamc1Values, q1: lamc1Q1, median: lamc1Median, q3: lamc1Q3, whiskerLo: lamc1WhiskerLo, whiskerHi: lamc1WhiskerHi,
  pvalues: lamc1PValues, boxColors: stageColors});
boxPanel({id: "boxE", letter: "e", gene: "TNFRSF11B", letterX: 369, titleX: 418, legendX: 502, axisX: 412, right: 492,
  ymin: 1.49, ymax: 3.88, ticks: tnfrsf11bTicks, decimals: true,
  values: tnfrsf11bValues, q1: tnfrsf11bQ1, median: tnfrsf11bMedian, q3: tnfrsf11bQ3, whiskerLo: tnfrsf11bWhiskerLo, whiskerHi: tnfrsf11bWhiskerHi,
  pvalues: tnfrsf11bPValues, boxColors: [grey, grey, grey, stageColors[3]]});
boxPanel({id: "boxF", letter: "f", gene: "VWF", letterX: 532, titleX: 586, legendX: 680, axisX: 585, right: 672,
  ymin: -0.92, ymax: 5.61, ticks: vwfTicks, decimals: false,
  values: vwfValues, q1: vwfQ1, median: vwfMedian, q3: vwfQ3, whiskerLo: vwfWhiskerLo, whiskerHi: vwfWhiskerHi,
  pvalues: vwfPValues, boxColors: [stageColors[0], stageColors[1], grey, stageColors[3]]});
</script>
</body>
</html>
